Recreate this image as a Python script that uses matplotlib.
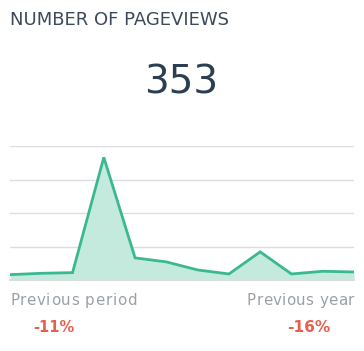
import matplotlib
matplotlib.use("Agg")
import matplotlib.pyplot as plt

title = "NUMBER OF PAGEVIEWS"
total_label = "353"
values = [8, 10, 11, 183, 33, 27, 15, 9, 42, 9, 13, 12]
y_ticks = [0, 50, 100, 150, 200]
compare_labels = ["Previous period", "Previous year"]
compare_values = ["-11%", "-16%"]

W, H = 364, 351
fig = plt.figure(figsize=(W / 100, H / 100), dpi=100)
fig.patch.set_facecolor("white")

ax = fig.add_axes([10 / W, 1 - 280 / H, 344 / W, 134 / H])
x = list(range(len(values)))
ax.fill_between(x, values, 0, color="#c3eadd", linewidth=0, zorder=2)
ax.plot(x, values, color="#3ab892", linewidth=2.0, zorder=3, solid_joinstyle="miter")
ax.set_xlim(0, len(values) - 1)
ax.set_ylim(0, 200)
ax.set_yticks(y_ticks)
ax.grid(axis="y", color="#dddddd", linewidth=1.0, zorder=1)
ax.set_xticks([])
ax.tick_params(left=False, labelleft=False)
for s in ["top", "right", "left"]:
    ax.spines[s].set_visible(False)
ax.spines["bottom"].set_color("#dddddd")
ax.spines["bottom"].set_linewidth(1.5)
ax.set_facecolor("none")
ax.set_axisbelow(True)

renderer = fig.canvas.get_renderer()

def fit_text(xp, yp, s, width_px, ha, **kw):
    t = fig.text(xp / W, 1 - yp / H, s, ha=ha, va="center", **kw)
    for _ in range(3):
        w = t.get_window_extent(renderer).width
        t.set_fontsize(t.get_fontsize() * width_px / w)
    return t

def text_w(s, **kw):
    t = fig.text(0, 0, s, **kw)
    w = t.get_window_extent(renderer).width
    t.remove()
    return w

def spaced_text(x0, x1, yp, s, **kw):
    # place characters one by one so that the string spans x0..x1 pixels
    bar = text_w("|", **kw)
    def adv(i):
        return text_w(s[:i] + "|", **kw) - bar if i > 0 else 0.0
    natural = text_w(s, **kw)
    gap = (x1 - x0 - natural) / (len(s) - 1)
    for i, ch in enumerate(s):
        if ch == " ":
            continue
        xp = x0 + adv(i) + i * gap
        fig.text(xp / W, 1 - yp / H, ch, ha="left", va="baseline", **kw)

fit_text(10, 20, title, 219, "left", fontsize=12, color="#3d4a5a",
         family="DejaVu Sans")
fit_text(181, 82, total_label, 74, "center", fontsize=30, color="#2c3e50",
         family="DejaVu Sans")
lab_kw = dict(fontsize=10.8, color="#9aa0a8", family="DejaVu Sans")
spaced_text(10, 137, 305, compare_labels[0], **lab_kw)
spaced_text(247, 354, 305, compare_labels[1], **lab_kw)
fit_text(54, 327, compare_values[0], 41, "center", fontsize=10, color="#e6604d",
         family="DejaVu Sans", fontweight="bold")
fit_text(309, 327, compare_values[1], 43, "center", fontsize=10, color="#e6604d",
         family="DejaVu Sans", fontweight="bold")

fig.savefig("out.png", dpi=100, facecolor="white")
